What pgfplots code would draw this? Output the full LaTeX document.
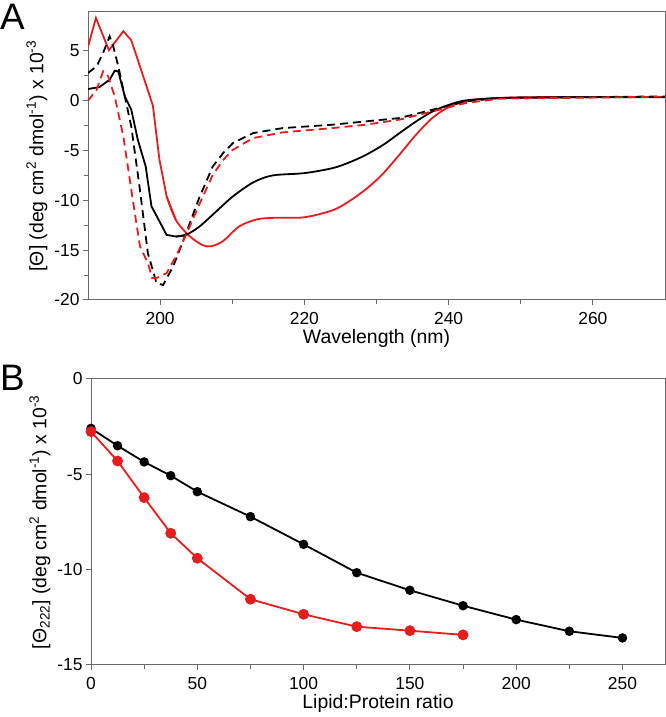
\documentclass[border=0pt]{standalone}
\usepackage{fontspec}
\setmainfont{Liberation Sans}
\usepackage{pgfplots}
\pgfplotsset{compat=1.18}

\definecolor{cdred}{RGB}{230,28,30}
\definecolor{axgray}{RGB}{105,105,105}

\pgfplotsset{cdstyle/.style={
  scale only axis,
  axis line style={axgray, line width=1bp},
  tick style={axgray, line width=1bp},
  tick align=outside,
  major tick length=5bp, minor tick length=4bp,
  xtick pos=bottom, ytick pos=left,
  /pgf/number format/assume math mode=true,
  tick label style={font=\fontsize{17.5}{19}\selectfont},
  xticklabel style={yshift=-4bp},
  label style={font=\fontsize{19.5}{21}\selectfont},
  xlabel style={yshift=2bp},
}}

\begin{document}
\begin{tikzpicture}
\path[use as bounding box] (0,0) rectangle (666bp,717bp);

% panel A: CD spectra
\begin{axis}[cdstyle,
  at={(88bp,417bp)}, anchor=south west,
  width=577bp, height=288bp,
  xmin=190, xmax=270, ymin=-20, ymax=8.9,
  xtick={200,220,240,260}, minor xtick={210,230,250},
  ytick={-20,-15,...,5}, minor ytick={-17.5,-12.5,...,2.5},
  xlabel={Wavelength (nm)},
  ylabel={[Θ] (deg cm\textsuperscript{2} dmol\textsuperscript{-1}) x 10\textsuperscript{-3}},
]
% jagged far-UV part, then the smooth part
\addplot[cdred, line width=1.8bp] coordinates {
(190,5.4)(191.1,8.3)(192.9,5.06)(194.9,6.97)(196,6.06)(197.2,3.45)(199,-0.5)
(199.9,-5.9)(200.9,-9.6)(202.2,-12)};
\addplot[cdred, line width=1.8bp, smooth, tension=0.5] coordinates {
(200.9,-9.6)(202.2,-12)(204.1,-13.6)(205.9,-14.5)(207.1,-14.6)
(208.7,-14.1)(211,-12.6)(213.5,-11.9)(216,-11.75)(220,-11.7)(223.9,-11.0)
(226.2,-10.1)(228.5,-8.9)(230.8,-7.4)(233.2,-5.4)(235.5,-3.4)(237.8,-1.7)
(240.1,-0.6)(242.4,-0.07)(244.7,0.17)(249.4,0.33)(255,0.36)(270,0.37)};
\addplot[black, line width=1.8bp] coordinates {
(190,1.17)(191.6,1.37)(193,2.1)(193.7,3.0)(194.2,2.95)(195.1,0.43)(196,-0.9)
(196.9,-3.9)(198,-6.6)(198.8,-10.6)(199.5,-11.55)(200.9,-13.47)(202.2,-13.63)
(203.6,-13.47)};
\addplot[black, line width=1.8bp, smooth, tension=0.5] coordinates {
(202.2,-13.63)(203.6,-13.47)(205.5,-12.6)(207.8,-11.1)(210.1,-9.6)(212.9,-8.2)(215.6,-7.5)
(220,-7.27)(223.9,-6.77)(226.2,-6.2)(228.5,-5.45)(231,-4.4)(233.2,-3.25)
(235.5,-2.08)(237.8,-1.07)(240.1,-0.4)(242.4,0.03)(247.1,0.27)(255,0.33)(270,0.35)};
\addplot[black, line width=1.8bp, dash pattern=on 8bp off 5bp] coordinates {
(190,2.78)(191.2,3.45)(192.1,4.8)(193,6.47)(193.5,5.46)(194.2,3.45)(195.1,0.43)
(196,-2.58)(197.2,-8.94)(198.3,-15.3)(199.5,-18.3)(200.4,-18.5)(201.8,-16.65)
(203.6,-13.3)(205.5,-9.6)(207.3,-6.6)(208.8,-5.2)(210.1,-4.25)(212.9,-3.25)(217,-2.75)
(223.9,-2.41)(233.2,-1.74)(237.8,-0.9)(242.4,-0.07)(247.1,0.27)(270,0.43)};
\addplot[cdred, line width=1.8bp, dash pattern=on 8bp off 5bp] coordinates {
(190,0)(191.2,1.1)(192.1,2.95)(192.8,2.45)(193.7,0.43)(194.9,-3.58)(196,-8.94)
(197.2,-14.6)(198.3,-16.3)(198.9,-17.8)(199.5,-17.8)(200.9,-17.3)(202.2,-15.6)
(203.6,-13.47)(205.5,-10.3)(207.3,-7.44)(208.8,-5.9)(210.1,-4.92)(212.9,-3.75)(217,-3.18)
(223.9,-2.75)(228.5,-2.41)(233.2,-1.9)(237.8,-1.07)(242.4,-0.23)(247.1,0.2)(270,0.4)};
\end{axis}

% panel B: theta 222 vs lipid:protein ratio
\begin{axis}[cdstyle,
  at={(91bp,52bp)}, anchor=south west,
  width=574bp, height=286bp,
  xmin=0, xmax=270, ymin=-15, ymax=0,
  xtick={0,50,...,250}, minor xtick={25,75,...,225},
  ytick={-15,-10,-5,0},
  xlabel={Lipid:Protein ratio},
  ylabel={[Θ\textsubscript{222}] (deg cm\textsuperscript{2} dmol\textsuperscript{-1}) x 10\textsuperscript{-3}},
  clip=false,
]
\addplot[black, line width=1.8bp, mark=*, mark size=3.8bp] coordinates {
(0,-2.59)(12.5,-3.5)(25,-4.35)(37.5,-5.07)(50,-5.91)(75,-7.22)(100,-8.67)
(125,-10.16)(150,-11.08)(175,-11.89)(200,-12.62)(225,-13.23)(250,-13.58)};
\addplot[cdred, line width=1.8bp, mark=*, mark size=4.5bp] coordinates {
(0,-2.76)(12.5,-4.3)(25,-6.22)(37.5,-8.09)(50,-9.4)(75,-11.55)(100,-12.34)
(125,-12.99)(150,-13.2)(175,-13.42)};
\end{axis}

\node[anchor=north west, inner sep=0pt, font=\fontsize{37}{40}\selectfont] at (0bp,713bp) {A};
\node[anchor=north west, inner sep=0pt, font=\fontsize{37}{40}\selectfont] at (0bp,352bp) {B};
\end{tikzpicture}
\end{document}
